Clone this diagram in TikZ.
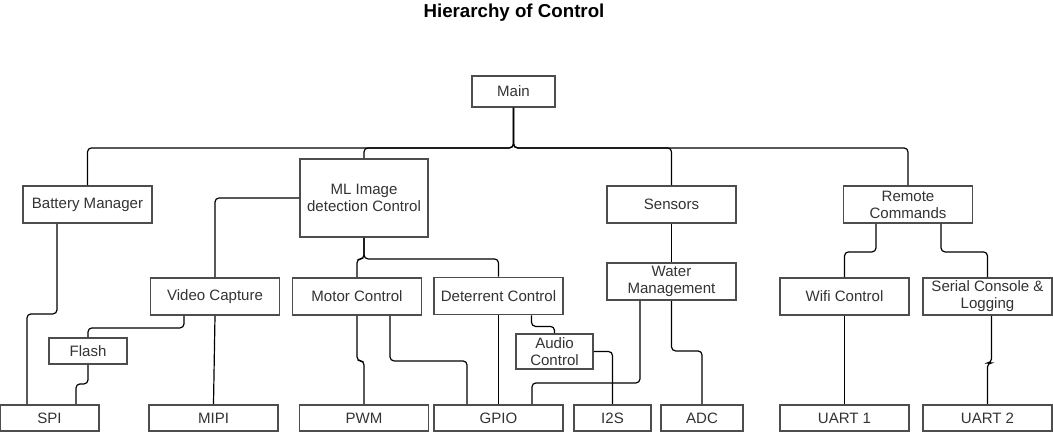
\documentclass[tikz,border=0pt]{standalone}
\usepackage{fontspec}
\setmainfont{Liberation Sans}
\usetikzlibrary{calc}
\definecolor{boxline}{HTML}{4D4D4D}
\definecolor{txtgrey}{HTML}{333333}
\def\pxl{0.025cm}

\tikzset{
  box/.style={draw=boxline, line width=1.3pt, fill=white, text=txtgrey,
    font=\fontsize{10.7}{12}\selectfont, align=center, inner sep=0pt,
    minimum width=129*\pxl, minimum height=37*\pxl},
  low/.style={box, minimum height=26*\pxl},
  wire/.style={black, line width=0.85pt, rounded corners=0.1cm}
}

\begin{document}
\begin{tikzpicture}[x=0.025cm, y=-0.025cm]

  % === Hierarchy of control — one px of the sketch per unit ===
  \useasboundingbox (0,0) rectangle (1053,432);

  \node[font=\fontsize{13.3}{16}\selectfont\bfseries] (title) at (514,13) {Hierarchy of Control};

  % Top level
  \node[box, minimum width=83*\pxl, minimum height=31*\pxl] (main) at (513.5,91.5) {Main};

  % Second level
  \node[box] (bat) at (87.5,204.5) {Battery Manager};
  \node[box, minimum width=128*\pxl, minimum height=78*\pxl] (ml) at (364,198) {ML Image\\detection Control};
  \node[box] (sens) at (671.5,204.5) {Sensors};
  \node[box] (rem) at (908,204.5) {Remote\\Commands};

  % Third level
  \node[box] (vid) at (215,296.5) {Video Capture};
  \node[box] (mot) at (357,296.5) {Motor Control};
  \node[box] (det) at (498.5,296) {Deterrent Control};
  \node[box] (wat) at (671.5,281.5) {Water\\Management};
  \node[box] (wifi) at (844.5,296.5) {Wifi Control};
  \node[box] (ser) at (987.5,296.5) {Serial Console \&\\Logging};

  % In between
  \node[low, minimum width=78*\pxl] (flash) at (88,351) {Flash};
  \node[box, minimum width=77*\pxl, minimum height=35*\pxl] (aud) at (554.5,351.5) {Audio\\Control};

  % === Hardware row ===
  \node[low, minimum width=99*\pxl] (spi) at (49.5,418) {SPI};
  \node[low] (mipi) at (213.5,418) {MIPI};
  \node[low] (pwm) at (364,418) {PWM};
  \node[low] (gpio) at (498.5,418) {GPIO};
  \node[low, minimum width=77*\pxl] (i2s) at (612.5,418) {I2S};
  \node[low, minimum width=82*\pxl] (adc) at (702,418) {ADC};
  \node[low] (uone) at (844.5,418) {UART 1};
  \node[low] (utwo) at (987.5,418) {UART 2};

  % === Connectors ===
  % Main bus
  \foreach \n in {bat,ml,sens,rem} {
    \draw[wire] (main.south) -- ++(0,40) -| (\n.north);
  }

  % ML branch
  \draw[wire] (ml.west) -| (vid.north);
  \draw[wire] (ml.south) -- ++(0,21) -| (mot.north);
  \draw[wire] (ml.south) -- ++(0,21) -| (det.north);

  % Battery, video and flash
  \draw[wire] ($(bat.south)+(-30.5,0)$) -- ++(0,90) -| ($(spi.north)+(-22.5,0)$);
  \draw[wire] ($(vid.south)+(-31,0)$) -- ++(0,12) -| (flash.north);
  \draw[wire] (vid.south) -- (mipi.north);
  \draw[wire] (flash.south) -- ++(0,19) -| ($(spi.north)+(26.5,0)$);

  % Motor and deterrent
  \draw[wire] (mot.south) -- ++(0,45) -| (pwm.north);
  \draw[wire] ($(mot.south)+(33,0)$) -- ++(0,45) -| ($(gpio.north)+(-31.5,0)$);
  \draw[wire] (det.south) -- (gpio.north);
  \draw[wire] ($(det.south)+(33,0)$) -- ++(0,11) -| (aud.north);
  \draw[wire] (aud.east) -| (i2s.north);

  % Sensors
  \draw[wire] (sens.south) -- (wat.north);
  \draw[wire] ($(wat.south)+(-31.5,0)$) -- ++(0,82) -| ($(gpio.north)+(33.5,0)$);
  \draw[wire] (wat.south) -- ++(0,50) -| (adc.north);

  % Remote commands
  \draw[wire] ($(rem.south)+(-32,0)$) -- ++(0,28) -| (wifi.north);
  \draw[wire] ($(rem.south)+(33,0)$) -- ++(0,28) -| (ser.north);
  \draw[wire] (wifi.south) -- (uone.north);
  \draw[wire] ($(ser.south)+(4,0)$) -- ++(0,47) -| (utwo.north);

\end{tikzpicture}
\end{document}
